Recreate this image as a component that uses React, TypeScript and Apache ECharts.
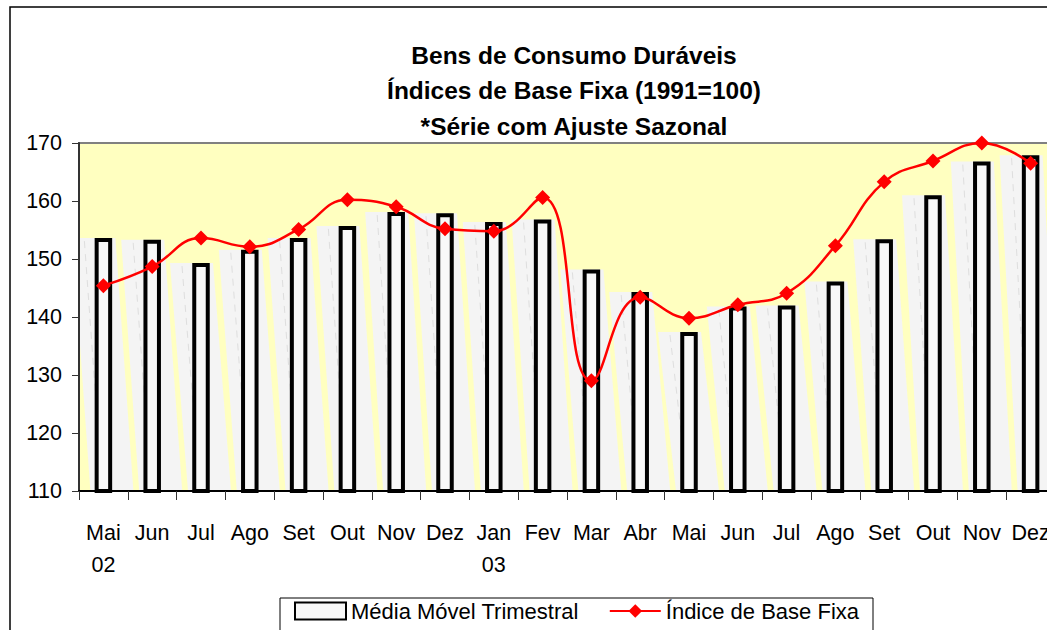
import React, { useEffect, useRef } from "react";
import * as echarts from "echarts";

const categories = ["Mai\n02", "Jun", "Jul", "Ago", "Set", "Out", "Nov", "Dez", "Jan\n03", "Fev", "Mar", "Abr", "Mai", "Jun", "Jul", "Ago", "Set", "Out", "Nov", "Dez"];
const mediaMovel = [153.6, 153.3, 149.3, 151.6, 153.6, 155.7, 158.1, 157.9, 156.4, 156.8, 148.2, 144.3, 137.4, 141.8, 142.0, 146.1, 153.4, 161.0, 166.8, 167.9];
const indiceBase = [145.4, 148.7, 153.6, 152.1, 155.1, 160.2, 159.0, 155.2, 154.8, 160.6, 129.0, 143.4, 139.8, 142.1, 144.1, 152.3, 163.3, 166.9, 170.0, 166.5];
const titleLines = ["Bens de Consumo Duráveis", "Índices de Base Fixa (1991=100)", "*Série com Ajuste Sazonal"];
const seriesNames = ["Média Móvel Trimestral", "Índice de Base Fixa"];
const yMin = 110;
const yMax = 170;
const yStep = 10;

const FONT = "Liberation Sans, Arial, sans-serif";

export default function App() {
  const ref = useRef<HTMLDivElement>(null);
  useEffect(() => {
    if (!ref.current) return;
    const chart = echarts.init(ref.current, null, { renderer: "svg" });
    const option: any = {
      animation: false,
      backgroundColor: "#ffffff",
      textStyle: { fontFamily: FONT },
      graphic: [
        {
          type: "rect",
          z: 0,
          shape: { x: 10, y: 7, width: 1200, height: 700 },
          style: { fill: "none", stroke: "#000", lineWidth: 1.5 },
        },
        ...titleLines.map((t, i) => ({
          type: "text",
          x: 574,
          y: 55 + i * 35.5,
          style: {
            text: t,
            font: `bold 24.5px ${FONT}`,
            fill: "#000",
            align: "center",
            verticalAlign: "middle",
          },
        })),
      ],
      grid: {
        left: 79,
        top: 143,
        width: 976,
        height: 348,
        show: true,
        backgroundColor: "#FFFFC0",
        borderColor: "#808080",
        borderWidth: 2,
      },
      legend: {
        left: 280,
        top: 598,
        orient: "horizontal",
        backgroundColor: "#fff",
        borderColor: "#000",
        borderWidth: 1,
        borderRadius: 0,
        padding: [2, 14, 10, 14],
        itemWidth: 51,
        itemHeight: 17,
        itemGap: 30,
        textStyle: { fontSize: 22, color: "#000", fontFamily: FONT },
        data: [
          { name: seriesNames[0], icon: "rect" },
          { name: seriesNames[1] },
        ],
      },
      xAxis: {
        type: "category",
        data: categories,
        boundaryGap: true,
        axisLine: { show: true, lineStyle: { color: "#000", width: 2 } },
        axisTick: { show: true, alignWithLabel: false, length: 9, lineStyle: { color: "#333", width: 1 } },
        axisLabel: { interval: 0, fontSize: 21.5, color: "#000", margin: 26, lineHeight: 32, fontFamily: FONT },
        splitLine: { show: false },
        z: 10,
      },
      yAxis: {
        type: "value",
        min: yMin,
        max: yMax,
        interval: yStep,
        axisLine: { show: true, lineStyle: { color: "#333", width: 2 } },
        axisTick: { show: true, length: 7, lineStyle: { color: "#333", width: 1 } },
        axisLabel: { fontSize: 21.5, color: "#000", margin: 17, fontFamily: FONT },
        splitLine: { show: false },
        z: 10,
      },
      series: [
        {
          type: "custom",
          name: "ghost",
          clip: true,
          silent: true,
          data: mediaMovel.map((v, i) => [i, v]),
          encode: { x: 0, y: 1 },
          renderItem: (params: any, api: any) => {
            const idx = api.value(0);
            const v = api.value(1);
            const top = api.coord([idx, v]);
            const base = api.coord([idx, yMin]);
            const bl = top[0] - 11;
            const br = top[0] + 11;
            const shift = 18;
            return {
              type: "group",
              children: [
                {
                  type: "polygon",
                  shape: {
                    points: [
                      [bl - 20, top[1]],
                      [br + 1, top[1]],
                      [br + 1 + shift, base[1]],
                      [bl - 20 + shift, base[1]],
                    ],
                  },
                  style: { fill: "#f4f4f4" },
                },
                {
                  type: "line",
                  shape: { x1: bl - 8, y1: top[1] + 3, x2: bl - 8 + shift, y2: base[1] },
                  style: { stroke: "#dedede", lineWidth: 1, lineDash: [7, 6] },
                },
              ],
            };
          },
        },
        {
          type: "bar",
          name: seriesNames[0],
          data: mediaMovel,
          barWidth: 17.5,
          itemStyle: { color: "#f8f8f8", borderColor: "#000", borderWidth: 4 },
        },
        {
          type: "line",
          name: seriesNames[1],
          data: indiceBase,
          smooth: 0.45,
          clip: false,
          symbol: "diamond",
          symbolSize: 15,
          lineStyle: { color: "#ff0000", width: 2.5 },
          itemStyle: { color: "#ff0000" },
          z: 5,
        },
      ],
    };
    chart.setOption(option);
    return () => chart.dispose();
  }, []);
  return (
    <div style={{ position: "fixed", left: 0, top: 0, width: 1047, height: 630, overflow: "hidden" }}>
      <div ref={ref} style={{ width: 1120, height: 630 }} />
    </div>
  );
}
